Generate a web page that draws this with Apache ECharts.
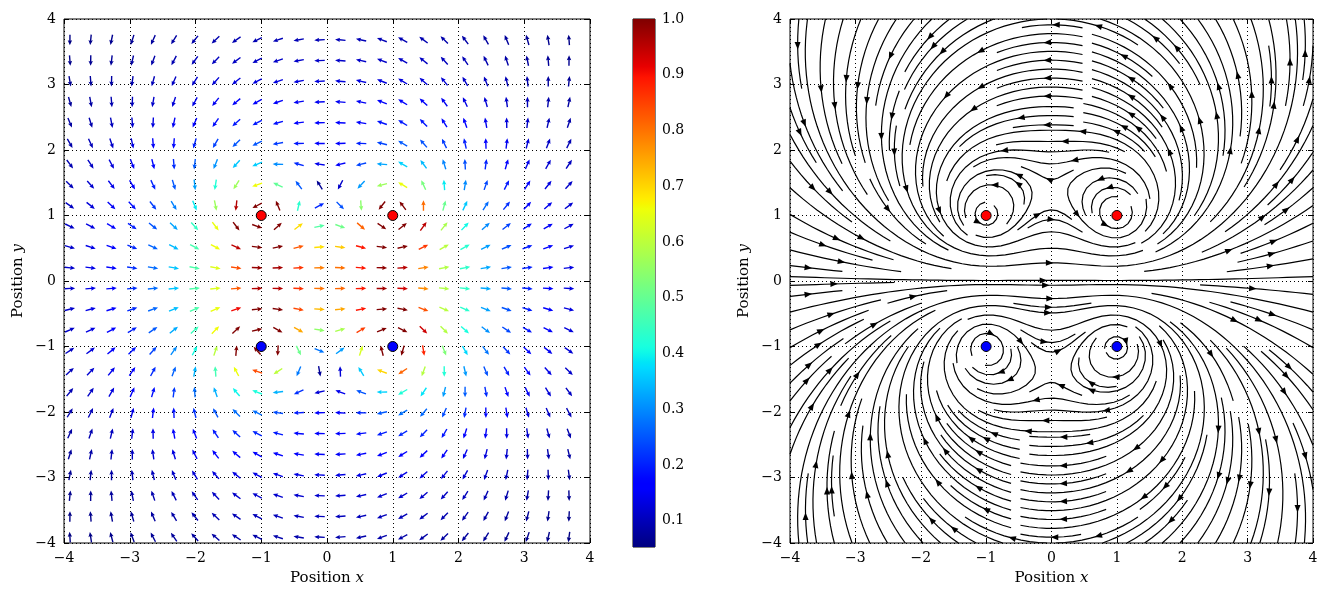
<!DOCTYPE html>
<html>
<head>
<meta charset="utf-8">
<script src="https://cdn.jsdelivr.net/npm/echarts@6/dist/echarts.min.js"></script>
<style>
html, body { margin: 0; padding: 0; background: #fff; }
#main { width: 1325px; height: 591px; }
</style>
</head>
<body>
<div id="main"></div>
<script>
// wires: red = current out of the page, blue = current into the page
var chargeX = [-1, 1, -1, 1];
var chargeY = [1, 1, -1, -1];
var chargeSign = [1, 1, -1, -1];
var chargeColor = ['#ff0000', '#ff0000', '#0000ff', '#0000ff'];

// quiver sample positions (same along x and y)
var quiverPos = [-3.910, -3.594, -3.277, -2.961, -2.645, -2.329, -2.012, -1.696, -1.380,
                 -1.063, -0.747, -0.431, -0.114, 0.202, 0.518, 0.835, 1.151, 1.467,
                 1.783, 2.100, 2.416, 2.733, 3.049, 3.365, 3.681];

var axisTicks = [-4, -3, -2, -1, 0, 1, 2, 3, 4];
var colorbarTicks = [0.1, 0.2, 0.3, 0.4, 0.5, 0.6, 0.7, 0.8, 0.9, 1.0];
var fieldScale = 2.5;     // |B| that maps to 1.0 on the colour bar
var streamDensity = 2;

var FONT = 'DejaVu Serif';

function field(x, y) {
    var bx = 0, by = 0;
    for (var i = 0; i < chargeX.length; i++) {
        var dx = x - chargeX[i], dy = y - chargeY[i];
        var r2 = dx * dx + dy * dy;
        bx += -chargeSign[i] * dy / r2;
        by += chargeSign[i] * dx / r2;
    }
    return [bx, by];
}

// matplotlib jet
var jetR = [[0, 0], [0.35, 0], [0.66, 1], [0.89, 1], [1, 0.5]];
var jetG = [[0, 0], [0.125, 0], [0.375, 1], [0.64, 1], [0.91, 0], [1, 0]];
var jetB = [[0, 0.5], [0.11, 1], [0.34, 1], [0.65, 0], [1, 0]];
function seg(st, t) {
    for (var i = 1; i < st.length; i++) {
        if (t <= st[i][0]) {
            var a = st[i - 1], b = st[i];
            return a[1] + (b[1] - a[1]) * (t - a[0]) / (b[0] - a[0]);
        }
    }
    return st[st.length - 1][1];
}
function jet(t) {
    t = Math.max(0, Math.min(1, t));
    return 'rgb(' + Math.round(255 * seg(jetR, t)) + ',' + Math.round(255 * seg(jetG, t)) + ',' + Math.round(255 * seg(jetB, t)) + ')';
}

// ---- quiver data
var quiverData = [];
var cmin = 1;
for (var j = 0; j < quiverPos.length; j++) {
    for (var i = 0; i < quiverPos.length; i++) {
        var b = field(quiverPos[i], quiverPos[j]);
        var m = Math.hypot(b[0], b[1]);
        var c = Math.min(m / fieldScale, 1);
        if (c < cmin) cmin = c;
        quiverData.push([quiverPos[i], quiverPos[j], b[0] / m, b[1] / m, c]);
    }
}

// ---- streamlines (same scheme as matplotlib streamplot)
function streamlines(density) {
    var n = Math.round(30 * density);
    var mask = new Uint8Array(n * n);
    var maxerror = 0.003, maxds = Math.min(1 / n, 0.1), maxlength = 2, minlength = 0.1;
    var traj = [], cur = -1;
    function idx(u, v) { return Math.round(v * (n - 1)) * n + Math.round(u * (n - 1)); }
    function inside(u, v) { return u >= 0 && u <= 1 && v >= 0 && v <= 1; }
    function dir(u, v, sgn) {
        var bb = field(-4 + 8 * u, -4 + 8 * v);
        var mm = Math.hypot(bb[0], bb[1]);
        if (!(mm > 0) || !isFinite(mm)) return null;
        return [sgn * bb[0] / mm, sgn * bb[1] / mm];
    }
    function update(u, v) {
        if (!inside(u, v)) return false;
        var k = idx(u, v);
        if (k !== cur) {
            if (mask[k] === 0) { traj.push(k); mask[k] = 1; cur = k; }
            else return false;
        }
        return true;
    }
    function euler(pts, sgn) {
        var p = pts[pts.length - 1];
        var c = dir(p[0], p[1], sgn);
        if (!c) return 0;
        var dsx = c[0] === 0 ? Infinity : (c[0] < 0 ? p[0] / -c[0] : (1 - p[0]) / c[0]);
        var dsy = c[1] === 0 ? Infinity : (c[1] < 0 ? p[1] / -c[1] : (1 - p[1]) / c[1]);
        var ds = Math.min(dsx, dsy);
        pts.push([p[0] + c[0] * ds, p[1] + c[1] * ds]);
        return ds;
    }
    function rk12(u, v, sgn) {
        var ds = maxds, stotal = 0, pts = [];
        while (true) {
            if (!inside(u, v)) { if (pts.length) stotal += euler(pts, sgn); break; }
            pts.push([u, v]);
            var k1 = dir(u, v, sgn);
            if (!k1) break;
            var u2 = u + ds * k1[0], v2 = v + ds * k1[1];
            if (!inside(u2, v2)) { stotal += euler(pts, sgn); break; }
            var k2 = dir(u2, v2, sgn);
            if (!k2) break;
            var dx1 = ds * k1[0], dy1 = ds * k1[1];
            var dx2 = ds * 0.5 * (k1[0] + k2[0]), dy2 = ds * 0.5 * (k1[1] + k2[1]);
            var err = Math.hypot(dx2 - dx1, dy2 - dy1);
            if (err < maxerror) {
                u += dx2; v += dy2;
                if (!update(u, v)) break;
                if (stotal + ds > maxlength) break;
                stotal += ds;
            }
            ds = err === 0 ? maxds : Math.min(maxds, 0.85 * ds * Math.sqrt(maxerror / err));
        }
        return { s: stotal, pts: pts };
    }
    function integrate(u0, v0) {
        var k0 = idx(u0, v0);
        if (mask[k0]) return null;
        traj = [k0]; mask[k0] = 1; cur = k0;
        var back = rk12(u0, v0, -1);
        cur = k0;
        var fwd = rk12(u0, v0, 1);
        if (back.s + fwd.s > minlength) {
            return back.pts.reverse().concat(fwd.pts.slice(1));
        }
        for (var q = 0; q < traj.length; q++) mask[traj[q]] = 0;
        return null;
    }
    // spiral of seed points, from the border inwards
    var out = [];
    var xfirst = 0, yfirst = 1, xlast = n - 1, ylast = n - 1, x = 0, y = 0, d = 'right';
    for (var s = 0; s < n * n; s++) {
        var t = integrate(x / (n - 1), y / (n - 1));
        if (t && t.length > 1) out.push(t);
        if (d === 'right') { x++; if (x >= xlast) { xlast--; d = 'up'; } }
        else if (d === 'up') { y++; if (y >= ylast) { ylast--; d = 'left'; } }
        else if (d === 'left') { x--; if (x <= xfirst) { xfirst++; d = 'down'; } }
        else { y--; if (y <= yfirst) { yfirst++; d = 'right'; } }
    }
    return out;
}

var streamLines = [], streamArrows = [];
streamlines(streamDensity).forEach(function (t) {
    var pts = t.map(function (p) { return [-4 + 8 * p[0], -4 + 8 * p[1]]; });
    streamLines.push({ coords: pts });
    var cum = [], s = 0;
    for (var k = 1; k < pts.length; k++) {
        s += Math.hypot(pts[k][0] - pts[k - 1][0], pts[k][1] - pts[k - 1][1]);
        cum.push(s);
    }
    var nI = 0;
    while (nI < cum.length && cum[nI] < s / 2) nI++;
    if (nI + 1 >= pts.length) nI = pts.length - 2;
    var a = pts[nI], bq = pts[nI + 1];
    streamArrows.push([(a[0] + bq[0]) / 2, (a[1] + bq[1]) / 2, bq[0] - a[0], bq[1] - a[1]]);
});

var chargeData = chargeX.map(function (x, i) {
    return { value: [x, chargeY[i]], itemStyle: { color: chargeColor[i] } };
});

function minusFmt(v) { return v < 0 ? '\u2212' + (-v) : String(v); }

function posAxis(grid, pos, main, name) {
    var ax = {
        type: 'value', gridIndex: grid, position: pos, min: -4, max: 4, interval: 1,
        axisLine: { show: false, onZero: false },
        axisTick: { show: true, inside: true, length: 5, lineStyle: { color: '#000', width: 1 } },
        axisLabel: { show: main, color: '#000', fontFamily: FONT, fontSize: 14, margin: 8, formatter: minusFmt },
        splitLine: { show: main, lineStyle: { color: '#000', width: 1, type: [1, 3] } }
    };
    if (main && name) {
        ax.name = name;
        ax.nameLocation = 'middle';
        ax.nameTextStyle = { color: '#000', fontFamily: FONT, fontSize: 15,
            rich: { i: { fontStyle: 'italic', fontFamily: FONT, fontSize: 15, color: '#000' } } };
    }
    return ax;
}

var xAxes = [
    Object.assign(posAxis(0, 'bottom', true, 'Position {i|x}'), { nameGap: 28 }),
    posAxis(0, 'top', false),
    { type: 'value', gridIndex: 1, min: 0, max: 1, show: false },
    Object.assign(posAxis(2, 'bottom', true, 'Position {i|x}'), { nameGap: 28 }),
    posAxis(2, 'top', false)
];
var yAxes = [
    Object.assign(posAxis(0, 'left', true, 'Position {i|y}'), { nameGap: 38 }),
    posAxis(0, 'right', false),
    {
        type: 'value', gridIndex: 1, position: 'right', min: cmin, max: 1,
        axisLine: { show: false, onZero: false },
        axisTick: { show: true, inside: true, length: 5, customValues: colorbarTicks, lineStyle: { color: '#000' } },
        axisLabel: { show: true, color: '#000', fontFamily: FONT, fontSize: 14, margin: 7,
            customValues: colorbarTicks, formatter: function (v) { return v.toFixed(1); } },
        splitLine: { show: false }
    },
    Object.assign(posAxis(2, 'left', true, 'Position {i|y}'), { nameGap: 38 }),
    posAxis(2, 'right', false)
];

var jetStops = [];
for (var q = 0; q <= 100; q++) jetStops.push({ offset: q / 100, color: jet(q / 100) });

var option = {
    animation: false,
    backgroundColor: '#fff',
    grid: [
        { left: 64, top: 19, width: 526, height: 528, show: true, borderColor: '#000', borderWidth: 1, backgroundColor: 'transparent' },
        { left: 633, top: 19, width: 22, height: 528, show: true, borderColor: '#000', borderWidth: 1, backgroundColor: 'transparent' },
        { left: 790, top: 19, width: 523, height: 528, show: true, borderColor: '#000', borderWidth: 1, backgroundColor: 'transparent' }
    ],
    xAxis: xAxes,
    yAxis: yAxes,
    series: [
        {
            type: 'custom', xAxisIndex: 0, yAxisIndex: 0, silent: true, z: 3,
            data: quiverData,
            renderItem: function (params, api) {
                var p = api.coord([api.value(0), api.value(1)]);
                var dx = api.value(2), dy = -api.value(3);
                var nx = -dy, ny = dx;
                var L = 10.5, w = 1.4, hl = 5, hal = 4.4, hw = 4.4;
                var tx = p[0] - dx * L / 2, ty = p[1] - dy * L / 2;
                var hx = p[0] + dx * L / 2, hy = p[1] + dy * L / 2;
                function pt(a, o) { return [hx - dx * a + nx * o, hy - dy * a + ny * o]; }
                var pts = [
                    [tx + nx * w / 2, ty + ny * w / 2],
                    pt(hal, w / 2), pt(hl, hw / 2), [hx, hy], pt(hl, -hw / 2), pt(hal, -w / 2),
                    [tx - nx * w / 2, ty - ny * w / 2]
                ];
                return { type: 'polygon', shape: { points: pts },
                    style: { fill: jet((api.value(4) - cmin) / (1 - cmin)) } };
            }
        },
        {
            type: 'custom', xAxisIndex: 2, yAxisIndex: 2, silent: true,
            data: [[0, cmin, 1, 1]],
            renderItem: function (params, api) {
                var p0 = api.coord([0, cmin]), p1 = api.coord([1, 1]);
                return { type: 'rect', shape: { x: p0[0], y: p1[1], width: p1[0] - p0[0], height: p0[1] - p1[1] },
                    style: { fill: new echarts.graphic.LinearGradient(0, 1, 0, 0, jetStops) } };
            }
        },
        {
            type: 'lines', coordinateSystem: 'cartesian2d', xAxisIndex: 3, yAxisIndex: 3,
            polyline: true, silent: true, z: 3,
            lineStyle: { color: '#000', width: 1.2, opacity: 1 },
            data: streamLines
        },
        {
            type: 'custom', xAxisIndex: 3, yAxisIndex: 3, silent: true, z: 4,
            data: streamArrows,
            renderItem: function (params, api) {
                var p = api.coord([api.value(0), api.value(1)]);
                var dx = api.value(2), dy = -api.value(3);
                var m = Math.hypot(dx, dy) || 1;
                dx /= m; dy /= m;
                var nx = -dy, ny = dx, L = 7.5, W = 3;
                var pts = [[p[0], p[1]],
                    [p[0] - dx * L + nx * W, p[1] - dy * L + ny * W],
                    [p[0] - dx * L - nx * W, p[1] - dy * L - ny * W]];
                return { type: 'polygon', shape: { points: pts }, style: { fill: '#000' } };
            }
        },
        {
            type: 'scatter', xAxisIndex: 0, yAxisIndex: 0, z: 5, silent: true,
            symbolSize: 10, itemStyle: { borderColor: '#000', borderWidth: 1, opacity: 1 },
            data: chargeData
        },
        {
            type: 'scatter', xAxisIndex: 3, yAxisIndex: 3, z: 5, silent: true,
            symbolSize: 10, itemStyle: { borderColor: '#000', borderWidth: 1, opacity: 1 },
            data: chargeData
        }
    ]
};

var myChart = echarts.init(document.getElementById('main'));
myChart.setOption(option);
</script>
</body>
</html>
